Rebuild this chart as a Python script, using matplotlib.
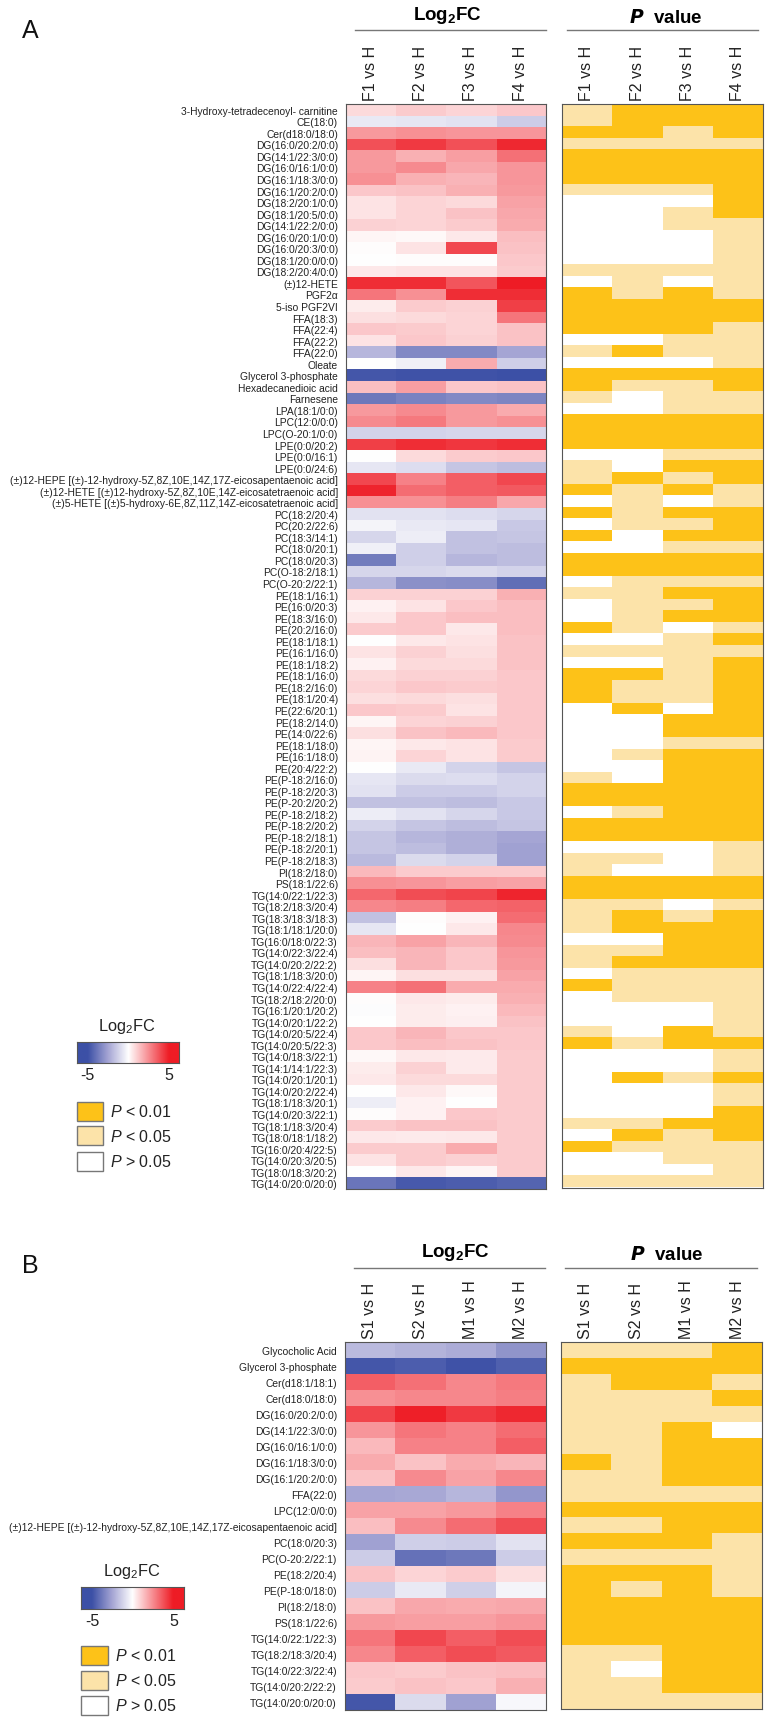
import numpy as np
import matplotlib
matplotlib.use('Agg')
import matplotlib.pyplot as plt
from matplotlib import font_manager
from matplotlib.colors import LinearSegmentedColormap, ListedColormap
from matplotlib.patches import Rectangle

W, H = 768, 1724

# Panel A data
labels_a = ['3-Hydroxy-tetradecenoyl- carnitine', 'CE(18:0)', 'Cer(d18:0/18:0)', 'DG(16:0/20:2/0:0)', 'DG(14:1/22:3/0:0)',
            'DG(16:0/16:1/0:0)', 'DG(16:1/18:3/0:0)', 'DG(16:1/20:2/0:0)', 'DG(18:2/20:1/0:0)', 'DG(18:1/20:5/0:0)',
            'DG(14:1/22:2/0:0)', 'DG(16:0/20:1/0:0)', 'DG(16:0/20:3/0:0)', 'DG(18:1/20:0/0:0)', 'DG(18:2/20:4/0:0)',
            '(±)12-HETE', 'PGF2α', '5-iso PGF2VI', 'FFA(18:3)', 'FFA(22:4)', 'FFA(22:2)', 'FFA(22:0)', 'Oleate',
            'Glycerol 3-phosphate', 'Hexadecanedioic acid', 'Farnesene', 'LPA(18:1/0:0)', 'LPC(12:0/0:0)',
            'LPC(O-20:1/0:0)', 'LPE(0:0/20:2)', 'LPE(0:0/16:1)', 'LPE(0:0/24:6)',
            '(±)12-HEPE [(±)-12-hydroxy-5Z,8Z,10E,14Z,17Z-eicosapentaenoic acid]',
            '(±)12-HETE [(±)12-hydroxy-5Z,8Z,10E,14Z-eicosatetraenoic acid]',
            '(±)5-HETE [(±)5-hydroxy-6E,8Z,11Z,14Z-eicosatetraenoic acid]',
            'PC(18:2/20:4)', 'PC(20:2/22:6)', 'PC(18:3/14:1)', 'PC(18:0/20:1)', 'PC(18:0/20:3)', 'PC(O-18:2/18:1)',
            'PC(O-20:2/22:1)', 'PE(18:1/16:1)', 'PE(16:0/20:3)', 'PE(18:3/16:0)', 'PE(20:2/16:0)', 'PE(18:1/18:1)',
            'PE(16:1/16:0)', 'PE(18:1/18:2)', 'PE(18:1/16:0)', 'PE(18:2/16:0)', 'PE(18:1/20:4)', 'PE(22:6/20:1)',
            'PE(18:2/14:0)', 'PE(14:0/22:6)', 'PE(18:1/18:0)', 'PE(16:1/18:0)', 'PE(20:4/22:2)', 'PE(P-18:2/16:0)',
            'PE(P-18:2/20:3)', 'PE(P-20:2/20:2)', 'PE(P-18:2/18:2)', 'PE(P-18:2/20:2)', 'PE(P-18:2/18:1)',
            'PE(P-18:2/20:1)', 'PE(P-18:2/18:3)', 'PI(18:2/18:0)', 'PS(18:1/22:6)', 'TG(14:0/22:1/22:3)',
            'TG(18:2/18:3/20:4)', 'TG(18:3/18:3/18:3)', 'TG(18:1/18:1/20:0)', 'TG(16:0/18:0/22:3)', 'TG(14:0/22:3/22:4)',
            'TG(14:0/20:2/22:2)', 'TG(18:1/18:3/20:0)', 'TG(14:0/22:4/22:4)', 'TG(18:2/18:2/20:0)', 'TG(16:1/20:1/20:2)',
            'TG(14:0/20:1/22:2)', 'TG(14:0/20:5/22:4)', 'TG(14:0/20:5/22:3)', 'TG(14:0/18:3/22:1)', 'TG(14:1/14:1/22:3)',
            'TG(14:0/20:1/20:1)', 'TG(14:0/20:2/22:4)', 'TG(18:1/18:3/20:1)', 'TG(14:0/20:3/22:1)', 'TG(18:1/18:3/20:4)',
            'TG(18:0/18:1/18:2)', 'TG(16:0/20:4/22:5)', 'TG(14:0/20:3/20:5)', 'TG(18:0/18:3/20:2)', 'TG(14:0/20:0/20:0)']
columns_a = ['F1 vs H', 'F2 vs H', 'F3 vs H', 'F4 vs H']
fc_a = [[0.8, 1.1, 0.9, 1.2], [-0.6, -0.7, -0.8, -1.4], [2.2, 2.4, 2.3, 2.3], [3.8, 4.3, 3.8, 4.7],
        [2.2, 1.7, 2.1, 3.1], [2.2, 2.5, 1.9, 2.3], [2.4, 1.7, 1.6, 2.3], [1.2, 1.3, 1.7, 2.2],
        [0.6, 0.9, 0.8, 2.0], [0.6, 0.9, 1.3, 1.9], [1.0, 0.9, 1.1, 1.8], [0.2, 0.15, 0.5, 1.4],
        [0.05, 0.6, 4.0, 1.3], [0, 0.05, 0.05, 1.2], [0.5, 0.6, 0.6, 1.1], [4.6, 4.6, 3.7, 5.0],
        [3.0, 2.4, 4.6, 4.6], [0.4, 1.1, 1.0, 4.2], [0.7, 0.8, 0.9, 3.0], [1.2, 1.1, 0.9, 1.3],
        [0.6, 1.2, 1.0, 1.3], [-2.0, -3.3, -3.3, -2.5], [0, -0.4, 1.8, -1.3], [-4.8, -4.9, -4.9, -5.0],
        [1.4, 2.1, 1.2, 1.3], [-3.8, -3.5, -3.3, -3.4], [2.2, 2.5, 2.2, 1.8], [2.5, 2.9, 2.2, 2.4],
        [-1.2, -1.2, -1.1, -1.1], [4.2, 4.6, 4.4, 4.6], [0, 0.8, 1.1, 1.2], [-0.7, -0.9, -1.6, -1.8],
        [4.0, 2.7, 3.5, 4.0], [4.8, 3.2, 3.5, 3.6], [2.4, 2.4, 2.8, 1.9], [-0.8, -0.8, -0.9, -1.1],
        [-0.3, -0.6, -0.7, -1.5], [-1.1, -0.5, -1.7, -1.6], [-0.4, -1.3, -1.7, -1.8], [-3.7, -1.3, -2.0, -1.8],
        [-1.1, -1.1, -1.0, -1.2], [-2.0, -3.1, -3.2, -4.1], [1.0, 1.0, 1.0, 1.7], [0.3, 0.6, 1.2, 1.4],
        [0.5, 1.2, 1.4, 1.4], [1.1, 1.2, 0.5, 1.4], [0, 0.5, 0.6, 1.3], [0.6, 1.0, 0.7, 1.3],
        [0.3, 0.8, 0.8, 1.3], [0.8, 1.0, 1.0, 1.2], [0.9, 1.2, 1.1, 1.2], [0.7, 0.8, 0.7, 1.2],
        [1.2, 1.1, 0.6, 1.2], [0.2, 0.9, 1.0, 1.2], [0.7, 1.3, 1.5, 1.2], [0.2, 0.5, 0.6, 1.1],
        [0.25, 0.9, 0.6, 1.1], [0, -0.6, -1.2, -1.6], [-0.7, -1.0, -0.9, -1.2], [-0.8, -1.4, -1.4, -1.2],
        [-1.7, -1.7, -1.8, -1.5], [-0.5, -0.8, -1.1, -1.5], [-1.2, -1.6, -1.8, -1.6], [-1.6, -2.0, -2.2, -2.5],
        [-1.6, -1.8, -2.2, -2.6], [-1.9, -1.0, -1.2, -2.6], [1.5, 1.1, 1.1, 1.1], [2.4, 2.3, 2.1, 2.0],
        [3.3, 3.9, 4.1, 4.8], [2.6, 2.8, 3.3, 3.4], [-1.7, 0.05, 0.3, 3.2], [-0.7, 0, 0.5, 2.6],
        [1.6, 2.0, 1.6, 2.5], [1.4, 1.6, 1.2, 2.3], [0.7, 1.6, 1.2, 2.2], [0.2, 0.7, 0.7, 2.0],
        [2.7, 3.1, 1.8, 1.8], [0.05, 0.5, 0.4, 1.7], [-0.05, 0.4, 0.3, 1.5], [0, 0.4, 0.35, 1.3],
        [1.2, 1.6, 1.2, 1.2], [1.2, 1.4, 1.3, 1.2], [0.15, 0.5, 0.45, 1.1], [0.4, 1.0, 0.45, 1.1],
        [0.5, 0.8, 0.8, 1.1], [0, 0.5, 0.15, 1.1], [-0.5, 0.3, 0, 1.1], [0.05, 0.3, 1.2, 1.1],
        [1.1, 1.3, 1.3, 1.1], [0.5, 0.45, 0.5, 1.1], [1.1, 1.1, 1.8, 1.1], [0.6, 1.1, 1.0, 1.1],
        [0, 0.5, 0.2, 1.1], [-3.9, -4.7, -4.6, -4.4]]
# 2: P < 0.01, 1: P < 0.05, 0: P > 0.05
p_a = [[1, 2, 2, 2], [1, 2, 2, 2], [2, 2, 1, 2], [1, 1, 1, 1], [2, 2, 2, 2], [2, 2, 2, 2], [2, 2, 2, 2], [1, 1, 1, 2],
       [0, 0, 0, 2], [0, 0, 1, 2], [0, 0, 1, 1], [0, 0, 0, 1], [0, 0, 0, 1], [0, 0, 0, 1], [1, 1, 1, 1], [0, 1, 0, 1],
       [2, 1, 2, 1], [2, 2, 2, 2], [2, 2, 2, 2], [2, 2, 2, 1], [0, 0, 1, 1], [1, 2, 1, 1], [0, 0, 0, 1], [2, 2, 2, 2],
       [2, 1, 1, 2], [1, 0, 1, 1], [0, 0, 1, 1], [2, 2, 2, 2], [2, 2, 2, 2], [2, 2, 2, 2], [0, 0, 1, 1], [1, 0, 2, 2],
       [1, 2, 1, 2], [2, 1, 2, 1], [0, 1, 0, 1], [2, 1, 2, 2], [0, 1, 1, 2], [2, 0, 2, 2], [0, 0, 1, 1], [2, 2, 2, 2],
       [2, 2, 2, 2], [0, 1, 1, 1], [1, 1, 2, 2], [0, 1, 1, 2], [0, 1, 2, 2], [2, 1, 0, 1], [0, 0, 1, 2], [1, 1, 1, 1],
       [0, 0, 1, 2], [2, 2, 1, 2], [2, 1, 1, 2], [2, 1, 1, 2], [0, 2, 0, 2], [0, 0, 2, 2], [0, 0, 2, 2], [0, 0, 1, 1],
       [0, 1, 2, 2], [0, 0, 2, 2], [1, 0, 2, 2], [2, 2, 2, 2], [2, 2, 2, 2], [0, 1, 2, 2], [2, 2, 2, 2], [2, 2, 2, 2],
       [0, 0, 0, 1], [1, 1, 0, 1], [1, 0, 0, 1], [2, 2, 2, 2], [2, 2, 2, 2], [1, 1, 0, 1], [1, 2, 1, 2], [1, 2, 2, 2],
       [0, 0, 2, 2], [1, 1, 2, 2], [1, 2, 2, 2], [0, 1, 1, 1], [2, 1, 1, 1], [0, 1, 1, 1], [0, 0, 0, 1], [0, 0, 0, 1],
       [1, 0, 2, 1], [2, 1, 2, 2], [0, 0, 0, 1], [0, 0, 0, 1], [0, 2, 1, 2], [0, 0, 0, 1], [0, 0, 0, 1], [0, 0, 0, 2],
       [1, 1, 2, 2], [0, 2, 1, 2], [2, 1, 1, 1], [0, 0, 1, 1], [0, 0, 0, 1], [1, 1, 1, 1]]

# Panel B data
labels_b = ['Glycocholic Acid', 'Glycerol 3-phosphate', 'Cer(d18:1/18:1)', 'Cer(d18:0/18:0)', 'DG(16:0/20:2/0:0)',
            'DG(14:1/22:3/0:0)', 'DG(16:0/16:1/0:0)', 'DG(16:1/18:3/0:0)', 'DG(16:1/20:2/0:0)', 'FFA(22:0)',
            'LPC(12:0/0:0)', '(±)12-HEPE [(±)-12-hydroxy-5Z,8Z,10E,14Z,17Z-eicosapentaenoic acid]', 'PC(18:0/20:3)',
            'PC(O-20:2/22:1)', 'PE(18:2/20:4)', 'PE(P-18:0/18:0)', 'PI(18:2/18:0)', 'PS(18:1/22:6)',
            'TG(14:0/22:1/22:3)', 'TG(18:2/18:3/20:4)', 'TG(14:0/22:3/22:4)', 'TG(14:0/20:2/22:2)', 'TG(14:0/20:0/20:0)']
columns_b = ['S1 vs H', 'S2 vs H', 'M1 vs H', 'M2 vs H']
fc_b = [[-1.9, -2.1, -2.3, -3.0], [-4.8, -4.6, -4.9, -4.5], [3.5, 3.1, 2.6, 2.9], [2.4, 2.6, 2.6, 2.8],
        [4.1, 4.9, 4.3, 4.7], [2.3, 3.0, 2.7, 3.2], [1.5, 2.7, 2.7, 3.5], [1.8, 1.3, 1.8, 1.6],
        [1.3, 2.5, 2.0, 2.6], [-2.5, -2.4, -2.0, -2.9], [2.0, 2.0, 2.2, 2.7], [1.4, 2.5, 3.2, 3.9],
        [-2.6, -1.3, -1.4, -0.8], [-1.4, -4.0, -3.8, -1.4], [1.3, 0.9, 1.1, 0.7], [-1.4, -0.6, -1.3, -0.3],
        [1.3, 1.9, 1.8, 1.9], [2.2, 2.1, 2.1, 2.3], [3.0, 4.0, 3.5, 3.9], [2.6, 3.5, 3.9, 3.6],
        [1.2, 1.1, 1.3, 1.4], [1.1, 1.3, 1.2, 1.7], [-4.8, -1.0, -2.6, -0.2]]
p_b = [[1, 1, 1, 2], [2, 2, 2, 2], [1, 2, 2, 1], [1, 1, 1, 2], [1, 1, 1, 1], [1, 1, 2, 0], [1, 1, 2, 2], [2, 1, 2, 2],
       [1, 1, 2, 2], [1, 1, 1, 1], [2, 2, 2, 2], [1, 1, 2, 2], [2, 2, 2, 1], [1, 1, 1, 1], [2, 2, 2, 1], [2, 1, 2, 1],
       [2, 2, 2, 2], [2, 2, 2, 2], [2, 2, 2, 2], [1, 1, 2, 2], [1, 0, 2, 2], [1, 1, 2, 2], [1, 1, 1, 1]]

legend_labels = ['< 0.01', '< 0.05', '> 0.05']
gold = '#fdc218'
pale = '#fce3a9'
p_colors = ['white', pale, gold]

plt.rcParams['font.family'] = ['Liberation Sans', 'DejaVu Sans']
plt.rcParams['mathtext.fontset'] = 'custom'
plt.rcParams['mathtext.rm'] = 'Liberation Sans'
plt.rcParams['mathtext.bf'] = 'Liberation Sans:bold'
plt.rcParams['mathtext.it'] = 'Liberation Sans:italic'

installed = {f.name for f in font_manager.fontManager.ttflist}
if 'Liberation Sans Narrow' in installed:
    row_font = ['Liberation Sans Narrow', 'Liberation Sans']
    row_size = 9.0
else:
    row_font = ['Liberation Sans']
    row_size = 7.4

fc_cmap = LinearSegmentedColormap.from_list('fc', [(0, '#3c50a6'), (0.25, '#a5a5d4'), (0.5, '#ffffff'),
                                                   (0.75, '#f78c91'), (1, '#ee1c25')])
p_cmap = ListedColormap(p_colors)

fig = plt.figure(figsize=(W / 100, H / 100), dpi=100)


def px_axes(x0, y0, x1, y1):
    return fig.add_axes([x0 / W, 1 - y1 / H, (x1 - x0) / W, (y1 - y0) / H])


def fig_text(x, y, s, **kw):
    fig.text(x / W, 1 - y / H, s, ha=kw.pop('ha', 'center'), va=kw.pop('va', 'center'), **kw)


def heat(box, values, cmap, vmin, vmax, columns, labels=None):
    ax = px_axes(*box)
    ax.imshow(np.array(values), cmap=cmap, vmin=vmin, vmax=vmax, aspect='auto', interpolation='nearest')
    ax.xaxis.tick_top()
    ax.set_xticks(range(len(columns)))
    ax.set_xticklabels(columns, rotation=90, fontsize=11.5, color='#222222')
    ax.tick_params(axis='x', length=0, pad=3)
    if labels:
        ax.set_yticks(range(len(labels)))
        ax.set_yticklabels(labels, fontsize=row_size, family=row_font, color='#222222')
        ax.tick_params(axis='y', length=0, pad=5.5)
    else:
        ax.set_yticks([])
    for s in ax.spines.values():
        s.set_linewidth(0.8)
        s.set_color('#555555')
    return ax


def header(y_text, y_line, x_fc, x_p, seg_fc, seg_p):
    fig_text(x_fc, y_text, r'$\mathbf{Log_2FC}$', fontsize=13.5)
    fig_text(x_p, y_text + 2, r'$\boldsymbol{P}$  value', fontsize=13.5, fontweight='bold')
    for seg in (seg_fc, seg_p):
        fig.add_artist(plt.Line2D([seg[0] / W, seg[1] / W], [1 - y_line / H] * 2, color='#777777', lw=1))


def key(cbar_box, title_xy, square_x, square_ys):
    x0, y0, x1, y1 = cbar_box
    fig_text(title_xy[0], title_xy[1], 'Log$_2$FC', fontsize=11.8, color='#222222')
    ax = px_axes(x0, y0, x1, y1)
    ramp = np.linspace(-6.3, 6.3, 256)[None, :]
    ax.imshow(ramp, cmap=fc_cmap, vmin=-5, vmax=5, aspect='auto', extent=(-6.3, 6.3, 0, 1))
    ax.set_yticks([])
    ax.set_xticks([-5, 5])
    ax.set_xticklabels(['-5', '5'], fontsize=11.5, color='#222222')
    ax.tick_params(axis='x', length=0, pad=3)
    for s in ax.spines.values():
        s.set_linewidth(0.8)
        s.set_color('#555555')
    for y, color, label in zip(square_ys, [gold, pale, 'white'], legend_labels):
        fig.add_artist(Rectangle((square_x / W, 1 - (y + 19) / H), 26.5 / W, 19 / H, transform=fig.transFigure,
                                 facecolor=color, edgecolor='#777777', lw=1))
        fig_text(square_x + 33.5, y + 9.5, f'$\\mathit{{P}}$ {label}', ha='left', fontsize=11.5, color='#222222')


# Panel A
fig_text(30, 31, 'A', fontsize=18, color='#111111')
heat((345.6, 105, 546, 1190), fc_a, fc_cmap, -5, 5, columns_a, labels_a)
heat((561.6, 105, 763, 1188.5), p_a, p_cmap, 0, 2, columns_a)
header(16, 30.7, 447, 666, (355, 546), (567, 758))
key((76.5, 1043, 179, 1064), (126.5, 1027), 76.5, (1102.7, 1127.3, 1152.5))

# Panel B
fig_text(30, 1266, 'B', fontsize=18, color='#111111')
heat((344.6, 1343.3, 546, 1710.7), fc_b, fc_cmap, -5, 5, columns_b, labels_b)
heat((560.8, 1343.3, 762.3, 1709.7), p_b, p_cmap, 0, 2, columns_b)
header(1253, 1269, 455, 667, (354, 545), (565, 757))
key((81.4, 1588, 184.3, 1609.7), (131.4, 1572), 81.4, (1646.5, 1671.5, 1696.7))

fig.savefig('out.png', dpi=100)
